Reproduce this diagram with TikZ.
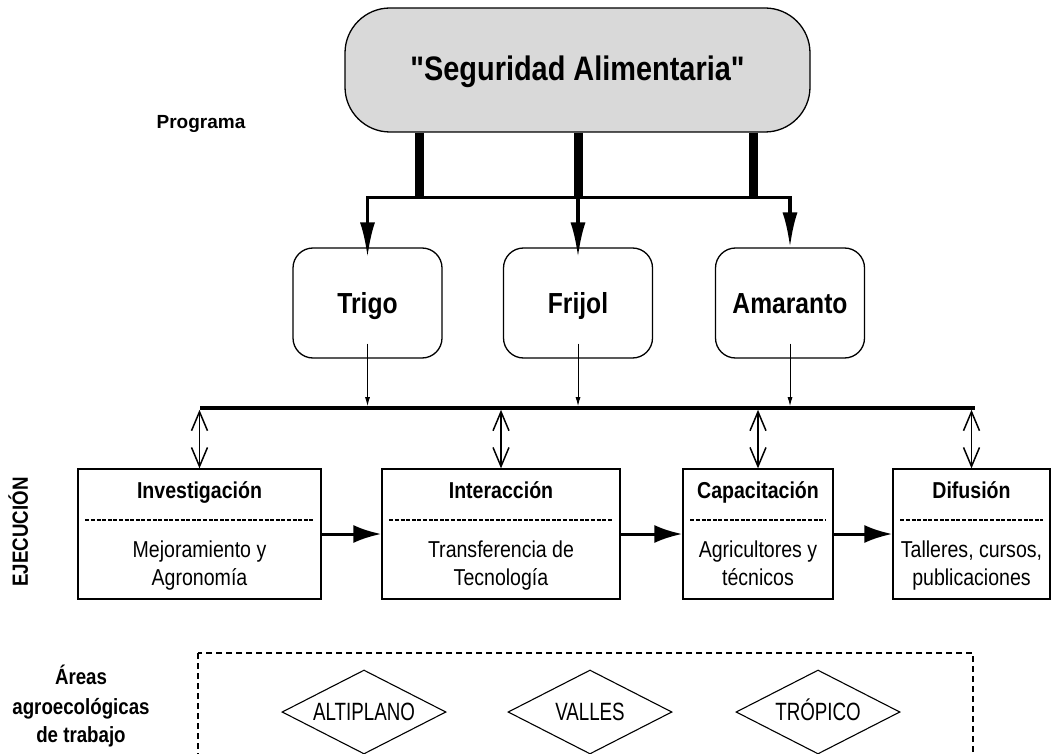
\documentclass[tikz,border=0pt]{standalone}
\usepackage{fontspec}
\setmainfont{Liberation Sans}
\newfontfamily\narrowsans{Liberation Sans}[FakeStretch=0.85]
\newfontfamily\condsans{Liberation Sans}[FakeStretch=0.75]
\usetikzlibrary{arrows.meta,shapes.geometric}

\begin{document}
\begin{tikzpicture}[x=1pt,y=-1pt,
  % text boxes sized to the capital height, so that capitals sit centred on the node
  capcentred/.style={inner sep=0, text height=#1, text depth=0pt},
  programbox/.style={draw, line width=1.3, fill=black!15, rounded corners=45,
    minimum width=465, minimum height=124, capcentred=24.3pt,
    font=\narrowsans\fontsize{34}{40}\selectfont\bfseries},
  cropbox/.style={draw, line width=1.3, rounded corners=20, minimum width=149,
    minimum height=110, capcentred=20.8pt,
    font=\narrowsans\fontsize{29}{34}\selectfont\bfseries},
  stagebox/.style={draw, line width=1.3, minimum height=130, inner sep=0},
  stagetitle/.style={capcentred=16.5pt, font=\narrowsans\fontsize{23}{27}\selectfont\bfseries},
  stagetext/.style={capcentred=16.5pt, font=\narrowsans\fontsize{23}{27}\selectfont},
  sidelabel/.style={capcentred=15.75pt, font=\narrowsans\fontsize{22}{26}\selectfont\bfseries},
  zonebox/.style={draw, line width=1.1, diamond, aspect=1.95, minimum width=164,
    minimum height=84, capcentred=17.9pt,
    font=\condsans\fontsize{25}{28}\selectfont},
  barline/.style={line width=9},
  busline/.style={line width=3.5},
  feedarrow/.style={line width=3.5, -{Latex[length=35,width=15]}},
  droparrow/.style={line width=1, -{Latex[length=9,width=5]}},
  flowarrow/.style={line width=3, -{Latex[length=28,width=18]}},
  linkarrow/.style={line width=1.5, {Straight Barb[length=19,width=16]}-{Straight Barb[length=19,width=16]}},
  separator/.style={line width=1.2, dash pattern=on 4 off 1.6},
  zoneframe/.style={line width=1.1, dash pattern=on 6 off 4}]
\useasboundingbox (0,0) rectangle (1054,754);

% programme and side labels
\node[programbox] (prog) at (577.5,70) {};
\node[capcentred=24.3pt, font=\narrowsans\fontsize{34}{40}\selectfont\bfseries] (progname)
  at (577.5,68) {\symbol{34}Seguridad Alimentaria\symbol{34}};
\node[capcentred=13.6pt, font=\fontsize{19}{23}\selectfont\bfseries] (proglbl) at (201,122) {Programa};
\node[sidelabel, rotate=90] (exec) at (20,532) {EJECUCIÓN};
\node[sidelabel] (areas1) at (81,677) {Áreas};
\node[sidelabel] (areas2) at (81,707) {agroecológicas};
\node[sidelabel] (areas3) at (81,735) {de trabajo};

% crops
\node[cropbox] (trigo) at (367.5,303) {Trigo};
\node[cropbox] (frijol) at (578,303) {Frijol};
\node[cropbox] (amaranto) at (790,303) {Amaranto};

% thick bars from the programme down to the distribution line
\coordinate (b1) at (419.5,199);
\coordinate (b2) at (578,199);
\coordinate (b3) at (753,199);
\foreach \b in {b1,b2,b3}
  \draw[barline] (\b |- prog.south) -- (\b);

\coordinate (hub) at (578,197.5);
\draw[feedarrow] (hub) -| ([yshift=-10]trigo.north);
\draw[feedarrow] (hub) -- ([yshift=-10]frijol.north);
\draw[feedarrow] (hub) -| (amaranto.north);

% execution stages
\node[stagebox, minimum width=243] (inv) at (199.5,534) {};
\node[stagebox, minimum width=238] (int) at (501,534) {};
\node[stagebox, minimum width=150] (cap) at (758,534) {};
\node[stagebox, minimum width=157] (dif) at (971.5,534) {};

\foreach \s/\t/\u/\v in {inv/Investigación/Mejoramiento y/Agronomía,
                         int/Interacción/Transferencia de/Tecnología,
                         cap/Capacitación/Agricultores y/técnicos,
                         dif/Difusión/{Talleres, cursos,}/publicaciones} {
  \node[stagetitle] (\s-title) at ([yshift=44]\s.center) {\t};
  \node[stagetext] (\s-line1) at ([yshift=-15]\s.center) {\u};
  \node[stagetext] (\s-line2) at ([yshift=-43]\s.center) {\v};
  \draw[separator] ([xshift=8,yshift=14]\s.west) -- ([xshift=-8,yshift=14]\s.east);
}

% common line between crops and stages
\coordinate (busL) at (200,408);
\coordinate (busR) at (975,408);
\coordinate (bustop) at (0,406.2);
\coordinate (busbot) at (0,409.8);
\draw[busline] (busL) -- (busR);

\foreach \c in {trigo,frijol,amaranto}
  \draw[droparrow] ([yshift=15]\c.south) -- (\c.south |- bustop);

\foreach \s in {inv,int,cap,dif}
  \draw[linkarrow] (\s.north |- busbot) -- (\s.north);

\draw[flowarrow] (inv.east) -- (int.west);
\draw[flowarrow] (int.east) -- (cap.west);
\draw[flowarrow] (cap.east) -- (dif.west);

% agro-ecological zones
\draw[zoneframe] (198,653) rectangle (973,790);
\node[zonebox] (alti) at (364,712) {ALTIPLANO};
\node[zonebox] (valles) at (590,712) {VALLES};
\node[zonebox] (tropico) at (818,712) {TRÓPICO};
\end{tikzpicture}
\end{document}
